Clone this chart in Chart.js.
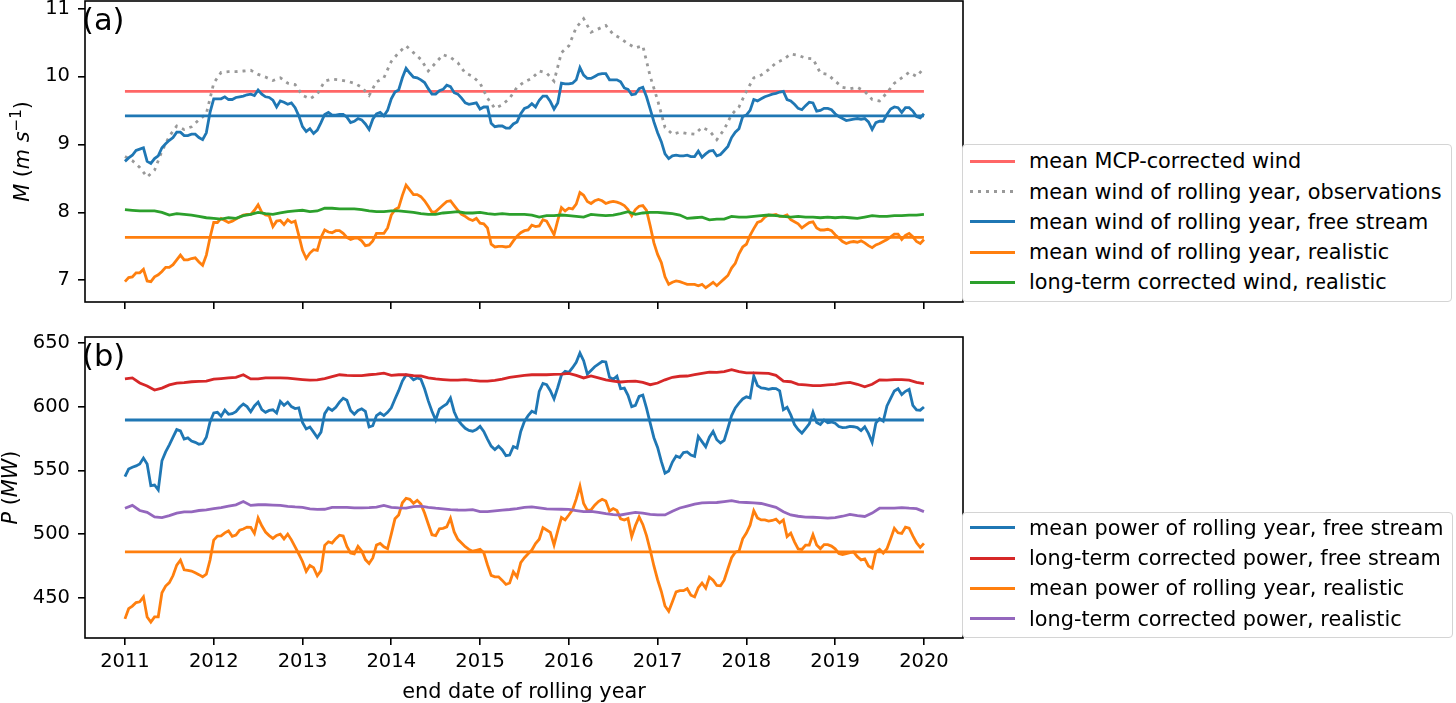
<!DOCTYPE html>
<html>
<head>
<meta charset="utf-8">
<script src="https://cdn.jsdelivr.net/npm/chart.js@4.4.0/dist/chart.umd.min.js"></script>
<style>
  body { margin: 0; background: #fff; width: 1456px; height: 703px; overflow: hidden; position: relative; font-family: "DejaVu Sans"; }
  canvas { position: absolute; left: 0; }
  #ca { top: 0; }
  #cb { top: 330px; }
  .leg { position: absolute; left: 962px; border: 1.5px solid #d4d4d4; border-radius: 4px; background: #fff; box-sizing: border-box; }
  .row { position: absolute; left: 0; height: 30px; line-height: 30px; font-size: 20.8px; color: #000; white-space: nowrap; }
  .row span { position: absolute; left: 7px; top: 13.5px; width: 45px; height: 3px; }
  .row b { position: absolute; left: 66px; font-weight: normal; }
</style>
</head>
<body>
<canvas id="ca" width="975" height="330"></canvas>
<canvas id="cb" width="975" height="373"></canvas>
<div class="leg" id="la" style="top:144px;width:490px;height:158px"></div>
<div class="leg" id="lb" style="top:512px;width:491px;height:126px"></div>
<script>
// end date of rolling year: monthly and half-monthly grids
var months = [], halfMonths = [];
for (var i = 0; i <= 108; i++) months.push(2011 + i / 12);
for (var j = 0; j <= 216; j++) halfMonths.push(2011 + j / 24);
var xTicks = [2011, 2012, 2013, 2014, 2015, 2016, 2017, 2018, 2019, 2020];
var yTicksA = [7, 8, 9, 10, 11];
var yTicksB = [450, 500, 550, 600, 650];

// (a) wind, m/s
var meanMCP = 9.78;
var meanWindFree = 9.42;
var meanWindReal = 7.63;
// monthly
var windObs = [8.82,8.76,8.66,8.52,8.62,8.90,9.12,9.27,9.22,9.26,9.36,9.45,
  9.90,10.06,10.07,10.07,10.08,10.09,10.03,9.99,9.94,9.98,9.90,9.88,
  9.72,9.67,9.74,9.93,9.96,9.95,9.93,9.90,9.84,9.72,9.92,9.98,
  10.22,10.35,10.45,10.35,10.25,10.08,10.2,10.32,10.28,10.2,10.05,10.0,
  9.90,9.68,9.53,9.58,9.68,9.84,9.92,9.97,10.08,10.05,9.93,10.35,
  10.45,10.72,10.85,10.65,10.70,10.75,10.62,10.56,10.48,10.42,10.45,10.0,
  9.65,9.25,9.15,9.18,9.16,9.15,9.25,9.20,9.07,9.22,9.44,9.55,
  9.78,9.98,10.02,10.10,10.2,10.25,10.33,10.31,10.27,10.26,10.05,10.03,
  9.93,9.84,9.82,9.84,9.78,9.66,9.64,9.76,9.90,9.98,10.06,10.0,
  10.12];
// half-monthly
var windFree = [8.75,8.80,8.84,8.91,8.93,8.95,8.75,8.72,8.79,8.83,8.95,9.01,
  9.06,9.10,9.18,9.18,9.13,9.13,9.15,9.15,9.10,9.07,9.17,9.47,
  9.67,9.67,9.67,9.70,9.66,9.66,9.69,9.70,9.71,9.73,9.74,9.72,
  9.80,9.74,9.70,9.69,9.65,9.55,9.64,9.62,9.59,9.61,9.54,9.42,
  9.26,9.19,9.23,9.16,9.21,9.32,9.44,9.47,9.43,9.43,9.44,9.44,
  9.40,9.32,9.34,9.38,9.36,9.30,9.22,9.37,9.45,9.47,9.42,9.50,
  9.67,9.77,9.80,9.98,10.12,10.05,9.99,9.98,9.95,9.91,9.82,9.74,
  9.74,9.79,9.81,9.87,9.85,9.76,9.74,9.68,9.61,9.59,9.60,9.61,
  9.52,9.55,9.55,9.31,9.26,9.27,9.27,9.24,9.24,9.30,9.33,9.45,
  9.53,9.55,9.60,9.55,9.65,9.71,9.71,9.63,9.52,9.61,9.90,9.89,
  9.89,9.90,9.95,10.13,10.02,9.97,9.97,10.0,10.03,10.04,10.04,9.95,
  9.95,9.95,9.92,9.83,9.81,9.73,9.74,9.82,9.84,9.70,9.52,9.33,
  9.17,9.04,8.86,8.79,8.83,8.84,8.83,8.83,8.84,8.82,8.82,8.90,
  8.81,8.86,8.90,8.91,8.83,8.85,8.91,8.97,9.10,9.18,9.23,9.41,
  9.43,9.50,9.66,9.64,9.67,9.70,9.72,9.74,9.75,9.77,9.78,9.66,
  9.64,9.59,9.53,9.51,9.57,9.62,9.61,9.49,9.50,9.53,9.53,9.51,
  9.45,9.41,9.38,9.35,9.36,9.37,9.38,9.37,9.38,9.33,9.22,9.32,
  9.34,9.34,9.44,9.52,9.55,9.54,9.47,9.54,9.54,9.49,9.41,9.39,
  9.45];
var windReal = [6.98,7.04,7.05,7.11,7.11,7.16,6.99,6.98,7.05,7.08,7.13,7.19,
  7.19,7.23,7.30,7.37,7.30,7.30,7.32,7.33,7.27,7.22,7.37,7.63,
  7.85,7.85,7.91,7.88,7.85,7.87,7.90,7.93,7.96,7.97,7.97,8.03,
  8.11,8.00,7.96,7.95,7.79,7.87,7.88,7.82,7.89,7.85,7.87,7.66,
  7.44,7.32,7.40,7.45,7.44,7.63,7.74,7.71,7.70,7.73,7.73,7.69,
  7.63,7.60,7.62,7.62,7.58,7.51,7.52,7.58,7.69,7.69,7.69,7.77,
  7.96,8.04,8.07,8.25,8.40,8.33,8.26,8.26,8.23,8.17,8.09,8.00,
  8.01,8.06,8.11,8.16,8.17,8.10,8.03,7.97,7.94,7.90,7.88,7.91,
  7.84,7.83,7.77,7.53,7.49,7.50,7.50,7.49,7.50,7.58,7.65,7.70,
  7.73,7.74,7.81,7.79,7.80,7.89,7.87,7.77,7.67,7.88,8.07,8.02,
  8.06,8.05,8.12,8.29,8.25,8.16,8.13,8.17,8.19,8.17,8.13,8.15,
  8.16,8.15,8.13,8.10,8.04,7.95,8.04,8.09,8.10,8.03,7.80,7.55,
  7.38,7.26,7.05,6.94,6.97,6.99,6.98,6.96,6.94,6.94,6.94,6.92,
  6.94,6.89,6.93,6.97,6.92,6.97,7.02,7.07,7.18,7.25,7.39,7.49,
  7.53,7.66,7.76,7.85,7.87,7.93,7.96,7.96,7.97,7.94,7.94,7.96,
  7.89,7.86,7.83,7.77,7.81,7.85,7.86,7.77,7.74,7.74,7.75,7.73,
  7.67,7.62,7.57,7.54,7.56,7.57,7.56,7.58,7.55,7.51,7.48,7.52,
  7.54,7.57,7.60,7.64,7.68,7.68,7.60,7.66,7.69,7.64,7.57,7.54,
  7.60];
// monthly
var windLT = [8.04,8.03,8.02,8.02,8.02,8.00,7.96,7.98,7.97,7.96,7.94,7.92,
  7.91,7.90,7.92,7.91,7.95,7.97,8.00,7.98,7.97,7.99,8.01,8.02,
  8.03,8.01,8.02,8.06,8.06,8.05,8.05,8.05,8.04,8.02,8.01,8.01,
  8.02,8.02,8.01,8.00,7.98,7.97,7.97,7.99,8.00,8.01,7.99,7.99,
  8.00,7.98,7.97,7.98,7.97,7.97,7.97,7.96,7.93,7.95,7.95,7.96,
  7.95,7.94,7.93,7.97,7.96,7.95,7.96,7.98,8.01,7.97,7.99,8.00,
  8.00,7.99,7.98,7.96,7.91,7.92,7.93,7.89,7.90,7.90,7.94,7.93,
  7.93,7.94,7.95,7.96,7.95,7.94,7.93,7.94,7.93,7.93,7.92,7.93,
  7.92,7.93,7.92,7.91,7.93,7.95,7.94,7.94,7.95,7.95,7.96,7.96,
  7.97];

// (b) power, MW
var meanPowFree = 589.5;
var meanPowReal = 486;
// half-monthly
var powFree = [545,551,552.5,553.5,555,559.6,555,538,538.5,534.7,557.5,564.5,
  570,576,582,581,574.5,575.5,573,572,570.5,571,576,588,
  595,595.5,592.5,597.3,594,594.5,596,599.5,602,600,596,600.5,
  603.5,597.6,595.5,597,597.5,595,604,601,603.5,600,598.5,599,
  587.5,582.5,584,580,575.8,580,594.5,598.9,597,599.5,603.5,606.5,
  605,597,594,597,598.3,596.3,584,585,593,595,593,595.5,
  599,606,612.5,620,624.8,624,621,622.5,621.5,614,604.5,596.3,
  589.5,598,600.2,602,606.8,596,589.5,586,583,581.3,580.7,582,
  584.5,580.5,574.5,569,566.3,569,566,561.5,562,568.7,567.5,580.5,
  588.5,592.9,596.3,595,612,618.2,617.2,612.5,606,615,624.8,627.7,
  626.8,630.5,634.8,642,636,625.5,628.4,631.3,633.4,635.4,635,623,
  621.4,623.8,614,614.5,608.8,600,601,608,609,598.8,587,575.6,
  568,557,547.8,549.5,556.5,561.3,560,564,564.5,562,561,576.6,
  572.5,568.5,576,580.5,574,571.5,573.5,583,593,599,602.8,606,
  607.7,606.8,624,616.5,614.6,614.3,613.6,614.2,614.1,612.3,597.6,599.5,
  593.5,586,582,579.2,582.8,586.5,595.6,587.5,586,589.4,587.4,587.9,
  587,584.4,583.5,583.7,584.5,584.2,583.5,581.2,584.2,579,572,587,
  590.5,588.5,600.5,606.5,612.3,614,609.4,612,613.5,601,597.5,597.2,
  599.7];
var powReal = [433.5,441.5,443.5,446.3,446.9,450.8,435,431,435,435.1,454,459.2,
  462,467.5,475.7,479.6,472,471.5,471,469.6,468.2,466.5,468.5,479.6,
  495.3,498.5,498.6,501,502.5,498.3,499.3,503,504,505.5,505.3,500.5,
  512.7,506.5,501.6,498.8,496.6,499,500,496.2,500,495.5,490,484.4,
  478.5,470.7,475.4,473.7,467.3,471.3,491.2,494,493,496.4,499.1,498.5,
  490.3,485.2,484.5,490.4,486.7,480,477,481.3,491.4,492.7,490,488.5,
  500,512,515,524.6,528.1,527.3,524.2,526.5,523.5,516.6,507.9,499.5,
  498.8,504.2,504.5,505.7,512.4,501.7,495.9,493,490.1,488,486.6,487.3,
  488,485.5,476,467.6,466.5,466.5,463.7,460.5,461.6,470.4,466.4,477.7,
  481.5,484.6,487.5,492.5,496,505.1,503.2,501.3,491.4,502.6,513,511.1,
  515,519.1,527.4,537.7,524,518.7,519,522.7,525.5,527.3,526,518.1,
  520,518.5,512,511,512.3,498,506.7,513.5,507.6,498.8,487.5,475,
  464.2,455,443.6,439.5,446.9,454.7,455.6,455.6,457.2,452.1,450.8,458,
  461.6,457.6,466.3,463.9,459.7,459.5,463.8,472.8,481.5,485.8,486.6,496.3,
  500.8,507,518.4,512.7,511.1,511.1,510.2,510.7,511.7,508.8,511.1,498,
  500.7,493.9,488.4,488,491.4,491.4,499.6,491.4,488.6,491.8,491.7,490.6,
  488.4,484.8,483.9,484.6,485.5,485.9,482.3,479.8,480.6,475,473.3,486,
  488,485,488.5,496.3,504.5,501,500.5,505.4,504.6,498.6,493.2,489.6,
  492.7];
// monthly
var powLTFree = [621.7,622.5,618.5,616.2,613,614.5,617,618.5,618.8,619.5,619.8,620,
  621.5,622,622.5,623,625,621.7,621.7,622.5,622.5,622.5,622.3,621.7,
  621.2,620.7,621,622,623.5,625,624.5,624.3,624.3,625,625.5,626.2,
  624.5,625,625,624.3,624,622.5,621.7,621.2,620.7,620.7,621.2,620.5,
  620,620,620.5,621.5,623,623.8,624.5,625,625,625,625.3,625.5,
  626,624.5,622.5,624,622.5,621,620,619.3,619.8,620,619,617.2,
  618.5,621,623,623.8,624,625,626,627,626.8,627.5,629,627.5,
  626.5,626.5,626.2,626,624.5,620,619.5,617.5,617,616.5,616.4,617,
  617.5,618.5,619,617.5,615.5,617.5,621,620.7,621.2,621.2,620.7,619,
  618];
var powLTReal = [520.3,522.5,518.5,517,513.5,513,514.5,516.5,517.5,517.5,518.5,519,
  520,520.8,522,523,525.5,522.5,523,523,522.8,522.5,521.8,521.3,
  521,519.7,519.4,519.5,521,521,521,520.6,520.6,520.8,521.2,522.5,
  521,520.5,520.3,521.5,522,521,520.3,519.8,519.2,518.9,518.8,519.2,
  517.6,517.6,518.2,518.8,519.3,520,521,521.3,520.5,519.8,519.6,519.5,
  519.4,518.5,517.6,517.8,517,516,515.2,515,516,517,516.5,515.5,
  515,515,518,520.5,522,523.5,524.5,524.7,524.8,525.5,526.3,525,
  524.8,524.5,524,522.5,521,517.5,515,514,513.3,513.2,513,512.5,
  513,514,515.5,514.5,513.8,516.5,520.3,520.3,520.3,520.8,520.3,520,
  517.6];

var cBlue = '#1f77b4', cOrange = '#ff7f0e', cGreen = '#2ca02c', cRed = '#d62728', cPurple = '#9467bd';
var cMCP = 'rgba(255,0,0,0.6)', cGrey = '#999999';

Chart.defaults.font.family = '"DejaVu Sans"';
Chart.defaults.font.size = 19.5;
Chart.defaults.color = '#000';

function pts(vals) {
  var xs = vals.length === halfMonths.length ? halfMonths : months;
  return vals.map(function (v, i) { return {x: xs[i], y: v}; });
}
function flat(v) { return [{x: months[0], y: v}, {x: months[months.length - 1], y: v}]; }
function line(data, color, dash) {
  return {data: data, borderColor: color, borderWidth: 2.8, borderDash: dash || [], pointRadius: 0, tension: 0, fill: false};
}

// frame, panel tag and y title (mixed italic / superscript like mathtext)
var extras = {
  id: 'extras',
  afterDraw: function (chart, args, o) {
    var ctx = chart.ctx, a = chart.chartArea;
    ctx.save();
    ctx.strokeStyle = '#000';
    ctx.lineWidth = 1.6;
    ctx.strokeRect(a.left, a.top, a.right - a.left, a.bottom - a.top);
    ctx.fillStyle = '#000';
    ctx.textBaseline = 'alphabetic';
    ctx.font = '30.5px "DejaVu Sans"';
    ctx.fillText(o.tag, a.left - 3, a.top + 28.5);
    // rotated y title
    var w = 0;
    o.title.forEach(function (p) { ctx.font = p.f; p.w = ctx.measureText(p.t).width; w += p.w; });
    ctx.translate(o.titleX, (a.top + a.bottom) / 2);
    ctx.rotate(-Math.PI / 2);
    var x = -w / 2;
    o.title.forEach(function (p) { ctx.font = p.f; ctx.fillText(p.t, x, p.dy || 0); x += p.w; });
    ctx.restore();
    if (o.xTitle) {
      ctx.save();
      ctx.font = '20.8px "DejaVu Sans"';
      ctx.textAlign = 'center';
      ctx.fillStyle = '#000';
      ctx.fillText(o.xTitle, (a.left + a.right) / 2, o.xTitleY);
      ctx.restore();
    }
  }
};

var it = 'italic 20.8px "DejaVu Sans"', rg = '20.8px "DejaVu Sans"', sm = '15px "DejaVu Sans"';

function makeChart(id, datasets, yMin, yMax, yTicks, showX, padTop, xH, ex) {
  datasets.forEach(function (d, k) { d.order = datasets.length - k; });
  return new Chart(document.getElementById(id), {
    type: 'line',
    data: {datasets: datasets},
    options: {
      responsive: false,
      animation: false,
      layout: {padding: {top: padTop, right: 12, left: 0, bottom: 0}},
      plugins: {legend: {display: false}, tooltip: {enabled: false}, extras: ex},
      scales: {
        x: {
          type: 'linear', min: 2010.55, max: 2020.44,
          afterBuildTicks: function (s) { s.ticks = xTicks.map(function (v) { return {value: v}; }); },
          afterFit: function (s) { s.height = xH; s.paddingLeft = 0; s.paddingRight = 0; },
          ticks: {padding: 5, maxRotation: 0, callback: function (v) { return showX ? String(v) : ''; }},
          grid: {drawOnChartArea: false, drawTicks: true, tickLength: 7, color: '#000', lineWidth: 1.6},
          border: {display: false}
        },
        y: {
          min: yMin, max: yMax,
          afterBuildTicks: function (s) { s.ticks = yTicks.map(function (v) { return {value: v}; }); },
          afterFit: function (s) { s.width = 85; s.paddingTop = 0; s.paddingBottom = 0; },
          ticks: {padding: 8},
          grid: {drawOnChartArea: false, drawTicks: true, tickLength: 7, color: '#000', lineWidth: 1.6},
          border: {display: false}
        }
      }
    },
    plugins: [extras]
  });
}

makeChart('ca', [
  line(flat(meanMCP), cMCP),
  line(pts(windObs), cGrey, [3, 5]),
  line(pts(windFree), cBlue),
  line(flat(meanWindFree), cBlue),
  line(pts(windReal), cOrange),
  line(flat(meanWindReal), cOrange),
  line(pts(windLT), cGreen)
], 6.68, 11.11, yTicksA, false, 1, 28, {
  tag: '(a)', titleX: 29,
  title: [{t: 'M', f: it}, {t: ' (', f: rg}, {t: 'm s', f: it}, {t: '\u22121', f: sm, dy: -8.5}, {t: ')', f: rg}]
});

makeChart('cb', [
  line(pts(powFree), cBlue),
  line(flat(meanPowFree), cBlue),
  line(pts(powLTFree), cRed),
  line(pts(powReal), cOrange),
  line(flat(meanPowReal), cOrange),
  line(pts(powLTReal), cPurple)
], 418.5, 654.6, yTicksB, true, 7, 65, {
  tag: '(b)', titleX: 17,
  title: [{t: 'P', f: it}, {t: ' (', f: rg}, {t: 'MW', f: it}, {t: ')', f: rg}],
  xTitle: 'end date of rolling year', xTitleY: 368
});

// legends
var legA = [
  ['mean MCP-corrected wind', cMCP, false],
  ['mean wind of rolling year, observations', cGrey, true],
  ['mean wind of rolling year, free stream', cBlue, false],
  ['mean wind of rolling year, realistic', cOrange, false],
  ['long-term corrected wind, realistic', cGreen, false]
];
var legB = [
  ['mean power of rolling year, free stream', cBlue, false],
  ['long-term corrected power, free stream', cRed, false],
  ['mean power of rolling year, realistic', cOrange, false],
  ['long-term corrected power, realistic', cPurple, false]
];
function fillLegend(id, items, first) {
  var box = document.getElementById(id);
  items.forEach(function (d, k) {
    var r = document.createElement('div');
    r.className = 'row';
    r.style.top = (first + 30.3 * k - 15) + 'px';
    var s = document.createElement('span');
    s.style.background = d[2] ? 'repeating-linear-gradient(to right,' + d[1] + ' 0 3px, transparent 3px 8px)' : d[1];
    var b = document.createElement('b');
    b.textContent = d[0];
    r.appendChild(s); r.appendChild(b);
    box.appendChild(r);
  });
}
fillLegend('la', legA, 16.2);
fillLegend('lb', legB, 14.8);
</script>
</body>
</html>
